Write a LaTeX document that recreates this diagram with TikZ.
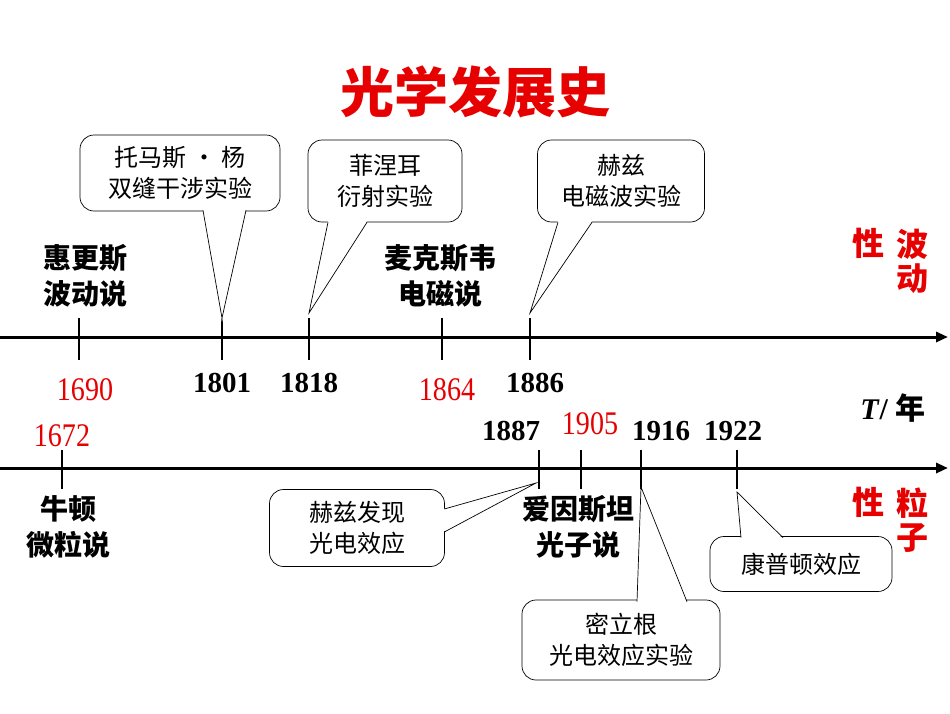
\documentclass[tikz,border=0pt]{standalone}
\usepackage{fontspec}
\setmainfont{Liberation Serif}
\newfontfamily\cjk{Noto Sans CJK SC}
\usetikzlibrary{arrows.meta}
\definecolor{myred}{RGB}{230,0,0}
\begin{document}
\begin{tikzpicture}[x=1pt,y=-1pt,
  axis/.style={line width=3pt,-{Triangle[length=12pt,width=10pt]}},
  tick/.style={line width=2.5pt},
  lbl/.style={font=\cjk\fontsize{28}{36}\selectfont\bfseries,align=center},
  yr/.style={font=\fontsize{29}{30}\selectfont\bfseries},
  ryr/.style={font=\fontsize{33}{34}\selectfont,text=myred,xscale=0.85},
  box/.style={draw,line width=0.7pt,rounded corners=14pt,fill=white,font=\cjk\fontsize{24}{31}\selectfont,align=center},
  ptr/.style={fill=white,draw=none},
  pl/.style={line width=0.7pt}]
\useasboundingbox (0,0) rectangle (950,713);
\node[font=\cjk\fontsize{54}{58}\selectfont\bfseries,text=myred] (title) at (475,92) {光学发展史};
% axes
\coordinate (a1s) at (0,337); \coordinate (a1e) at (948,337);
\draw[axis] (a1s) -- (a1e);
\coordinate (a2s) at (0,468); \coordinate (a2e) at (948,468);
\draw[axis] (a2s) -- (a2e);
% ticks
\foreach \n/\x in {t1690/79,t1801/222,t1818/309,t1864/442,t1886/530}{
  \coordinate (\n a) at (\x,318); \coordinate (\n b) at (\x,360);
  \draw[tick] (\n a) -- (\n b);}
\foreach \n/\x in {t1672/62,t1887/539,t1905/581,t1916/641,t1922/737}{
  \coordinate (\n a) at (\x,450); \coordinate (\n b) at (\x,489);
  \draw[tick] (\n a) -- (\n b);}
% year labels
\node[ryr] (y1690) at (85,390) {1690};
\node[yr] (y1801) at (222,383) {1801};
\node[yr] (y1818) at (309,383) {1818};
\node[ryr] (y1864) at (447,390) {1864};
\node[yr] (y1886) at (535,383) {1886};
\node[ryr] (y1672) at (62,436) {1672};
\node[yr] (y1887) at (511,431) {1887};
\node[ryr] (y1905) at (590,424) {1905};
\node[yr] (y1916) at (661,431) {1916};
\node[yr] (y1922) at (733,431) {1922};
\node[font=\fontsize{30}{32}\selectfont\bfseries] (T) at (893,408) {\textit{T}/ {\cjk 年}};
% labels
\node[lbl] (huy) at (85,276) {惠更斯\\波动说};
\node[lbl] (max) at (440,276) {麦克斯韦\\电磁说};
\node[lbl] (newt) at (68,527) {牛顿\\微粒说};
\node[lbl] (ein) at (578,527) {爱因斯坦\\光子说};
\node[font=\cjk\fontsize{32}{38}\selectfont\bfseries,text=myred] (w1) at (868,243) {性};
\node[font=\cjk\fontsize{32}{38}\selectfont\bfseries,text=myred,align=center] (w2) at (912,261) {波\\[-4pt]动};
\node[font=\cjk\fontsize{32}{38}\selectfont\bfseries,text=myred] (p1) at (868,502) {性};
\node[font=\cjk\fontsize{32}{38}\selectfont\bfseries,text=myred,align=center] (p2) at (912,520) {粒\\[-4pt]子};
% callouts
\node[box,minimum width=200pt,minimum height=76pt] (c1) at (180,173) {托马斯 • 杨\\双缝干涉实验};
\fill[ptr] (203,209) -- (222,322) -- (246,209) -- cycle;
\draw[pl] (203,210.3) -- (t1801a) -- (246,210.3);
\node[box,minimum width=154pt,minimum height=82pt] (c2) at (385,181) {菲涅耳\\衍射实验};
\fill[ptr] (328,221) -- (309,313) -- (367,221) -- cycle;
\draw[pl] (328,222.3) -- (309,313) -- (367,222.3);
\node[box,minimum width=167pt,minimum height=82pt] (c3) at (621,181) {赫兹\\电磁波实验};
\fill[ptr] (558,221) -- (530,313) -- (592,221) -- cycle;
\draw[pl] (558,222.3) -- (530,313) -- (592,222.3);
\node[box,minimum width=175pt,minimum height=77pt] (c4) at (357,528) {赫兹发现\\光电效应};
\fill[ptr] (443,509) -- (536,483) -- (443,532) -- cycle;
\draw[pl] (444.3,509) -- (536,483) -- (444.3,532);
\node[box,minimum width=182pt,minimum height=55pt] (c5) at (801,564) {康普顿效应};
\fill[ptr] (741,539) -- (737,492) -- (783,539) -- cycle;
\draw[pl] (741,537.7) -- (737,492) -- (783,537.7);
\node[box,minimum width=198pt,minimum height=80pt] (c6) at (621,640) {密立根\\光电效应实验};
\fill[ptr] (637,603) -- (641,487) -- (687,603) -- cycle;
\draw[pl] (637,601.7) -- (641,487) -- (687,601.7);
\end{tikzpicture}
\end{document}
